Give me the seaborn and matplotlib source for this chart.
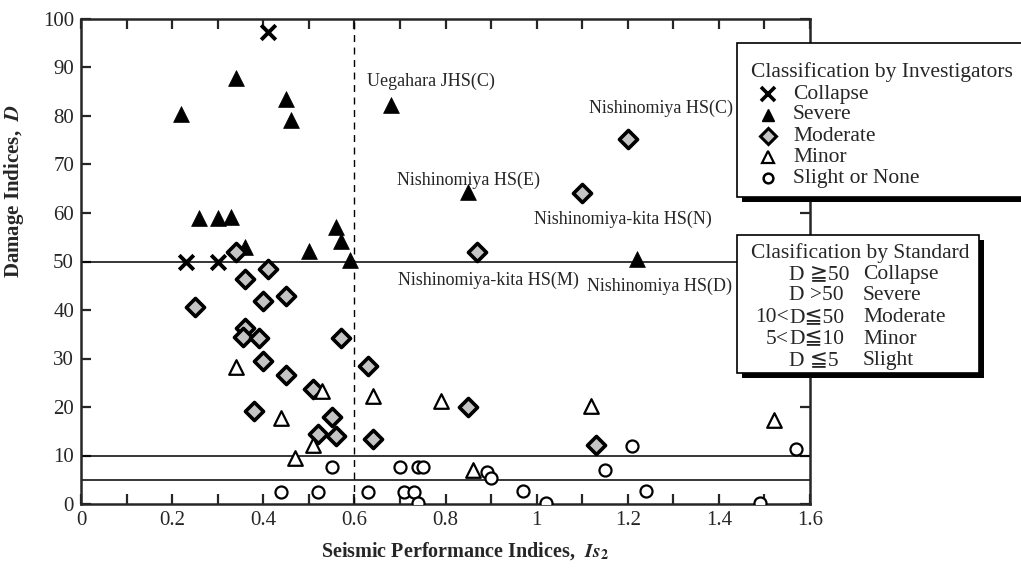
import pandas as pd
import matplotlib
matplotlib.use("Agg")
import matplotlib.pyplot as plt
import seaborn as sns
from matplotlib.patches import Rectangle
from matplotlib.lines import Line2D

# Damage data: (Is2, D) per class
collapse_x = [0.41, 0.23, 0.30]
collapse_y = [97.4, 50.0, 50.0]

severe_x = [0.22, 0.34, 0.45, 0.46, 0.68, 0.85, 0.26, 0.30, 0.33, 0.36, 0.50, 0.56, 0.57, 0.59, 1.22]
severe_y = [80.5, 87.8, 83.6, 79.2, 82.3, 64.4, 58.9, 59.0, 59.2, 53.0, 52.2, 57.2, 54.2, 50.3, 50.6]

moderate_x = [0.34, 0.41, 0.36, 0.40, 0.45, 0.25, 0.36, 0.355, 0.39, 0.57, 0.40, 0.45, 0.51,
              0.38, 0.55, 0.52, 0.56, 0.63, 0.64, 0.85, 1.13, 0.87, 1.10, 1.20]
moderate_y = [52.0, 48.4, 46.4, 41.9, 42.9, 40.6, 36.2, 34.4, 34.3, 34.3, 29.5, 26.5, 23.8,
              19.2, 17.9, 14.4, 14.0, 28.5, 13.5, 19.9, 12.2, 52.0, 64.1, 75.2]

minor_x = [0.34, 0.53, 0.44, 0.51, 0.47, 0.64, 0.79, 1.12, 0.86, 1.52]
minor_y = [28.2, 23.2, 17.7, 12.2, 9.4, 22.3, 21.2, 20.2, 7.0, 17.3]

slight_x = [0.55, 0.44, 0.52, 0.63, 0.70, 0.74, 0.75, 0.89, 0.90, 0.71, 0.73, 0.74,
            0.97, 1.02, 1.15, 1.21, 1.24, 1.49, 1.57]
slight_y = [7.6, 2.4, 2.4, 2.4, 7.6, 7.6, 7.6, 6.5, 5.4, 2.5, 2.5, 0.2,
            2.7, 0.2, 7.0, 12.0, 2.7, 0.3, 11.3]

# building names written next to some points
names = ["Uegahara JHS(C)", "Nishinomiya HS(E)", "Nishinomiya HS(C)",
         "Nishinomiya-kita HS(N)", "Nishinomiya-kita HS(M)", "Nishinomiya HS(D)"]
name_x = [0.628, 0.694, 1.115, 0.995, 0.695, 1.11]
name_y = [87.1, 66.8, 81.6, 58.6, 46.2, 44.9]

legend_labels = ["Collapse", "Severe", "Moderate", "Minor", "Slight or None"]
std_prefix = ["", "", "10<", "5<", ""]
std_core = ["D ≧50", "D >50", "D≦50", "D≦10", "D ≦5"]
std_word = ["Collapse", "Severe", "Moderate", "Minor", "Slight"]

sns.set_style("ticks")
serif = ["Liberation Serif", "DejaVu Serif", "DejaVu Sans"]
plt.rcParams["font.family"] = serif
plt.rcParams["mathtext.fontset"] = "stix"

W, H = 1021, 571
fig = plt.figure(figsize=(W / 100, H / 100), dpi=100)
ax = fig.add_axes([81 / W, 1 - 504 / H, (810 - 81) / W, (504 - 19) / H])

# reference lines
for yv in [50, 10, 5]:
    ax.axhline(yv, color="black", lw=1.1, zorder=1)
ax.axvline(0.6, color="black", lw=1.0, ls=(0, (5, 4)), zorder=1)

sns.scatterplot(x=collapse_x, y=collapse_y, ax=ax, marker="x", s=110,
                color="black", linewidth=2.8, zorder=3)
sns.scatterplot(x=severe_x, y=severe_y, ax=ax, marker="^", s=130,
                color="black", edgecolor="black", linewidth=0.5, zorder=3)
sns.scatterplot(x=moderate_x, y=moderate_y, ax=ax, marker="D", s=85,
                color="#c4c4c4", edgecolor="black", linewidth=2.6, zorder=3)
sns.scatterplot(x=minor_x, y=minor_y, ax=ax, marker="^", s=110,
                color="white", edgecolor="black", linewidth=1.6, zorder=3)
sns.scatterplot(x=slight_x, y=slight_y, ax=ax, marker="o", s=75,
                color="white", edgecolor="black", linewidth=1.6, zorder=3)

for t, xx, yy in zip(names, name_x, name_y):
    ax.text(xx, yy, t, fontsize=13, ha="left", va="center", zorder=4)

ax.set_xlim(0, 1.6)
ax.set_ylim(0, 100)
xt = [i / 10 for i in range(17)]
ax.set_xticks(xt)
ax.set_xticklabels([f"{v:g}" if i % 2 == 0 else "" for i, v in enumerate(xt)])
ax.set_yticks(range(0, 101, 10))
ax.tick_params(direction="in", length=7, width=1.6, labelsize=15, pad=5,
               top=True, right=True)
for sp in ax.spines.values():
    sp.set_linewidth(1.8)
    sp.set_visible(True)

ax.set_xlabel(r"Seismic Performance Indices,  $\mathbfit{Is}_{\mathbf{2}}$",
              fontsize=14.5, fontweight="bold")
ax.set_ylabel(r"Damage Indices,  $\mathbfit{D}$", fontsize=15, fontweight="bold")
ax.xaxis.set_label_coords(0.527, -0.075)
ax.yaxis.set_label_coords(-0.075, 0.645)


def fx(px):
    return px / W


def fy(py):
    return 1 - py / H


def box(x0, y0, x1, y1):
    sh = Rectangle((fx(x0 + 5), fy(y1 + 5)), fx(x1 - x0), (y1 - y0) / H,
                   transform=fig.transFigure, facecolor="black", edgecolor="none", zorder=5)
    bx = Rectangle((fx(x0), fy(y1)), fx(x1 - x0), (y1 - y0) / H,
                   transform=fig.transFigure, facecolor="white", edgecolor="black",
                   lw=1.2, zorder=6)
    fig.add_artist(sh)
    fig.add_artist(bx)


LFS = 15.5

# legend box: classification by investigators
box(737, 43, 1030, 197)
fig.text(fx(751), fy(72), "Classification by Investigators", fontsize=LFS,
         va="center", ha="left", zorder=8)
leg_styles = [
    dict(marker="x", markersize=10, markeredgewidth=2.6, color="black"),
    dict(marker="^", markersize=9, color="black"),
    dict(marker="D", markersize=8.5, markerfacecolor="#c4c4c4", markeredgecolor="black",
         markeredgewidth=2.2),
    dict(marker="^", markersize=8.5, markerfacecolor="white", markeredgecolor="black",
         markeredgewidth=1.6),
    dict(marker="o", markersize=7, markerfacecolor="white", markeredgecolor="black",
         markeredgewidth=1.8),
]
row_y = [94, 115, 136, 157, 178]
for lab, st, ry in zip(legend_labels, leg_styles, row_y):
    fig.add_artist(Line2D([fx(768)], [fy(ry)], transform=fig.transFigure,
                          linestyle="none", zorder=8, **st))
    fig.text(fx(793), fy(ry), lab, fontsize=LFS, va="center", ha="left", zorder=8)

# legend box: classification by standard
box(737, 235, 979, 373)
fig.text(fx(751), fy(253), "Clasification by Standard", fontsize=LFS,
         va="center", ha="left", zorder=8)
row_y2 = [275, 296, 318, 339, 361]
for pre, core, word, ry in zip(std_prefix, std_core, std_word, row_y2):
    if pre:
        fig.text(fx(789), fy(ry), pre, fontsize=LFS, va="center", ha="right", zorder=8)
    fig.text(fx(789), fy(ry), core, fontsize=LFS, va="center", ha="left", zorder=8)
    fig.text(fx(863), fy(ry), word, fontsize=LFS, va="center", ha="left", zorder=8)

fig.savefig("out.png", dpi=100)
